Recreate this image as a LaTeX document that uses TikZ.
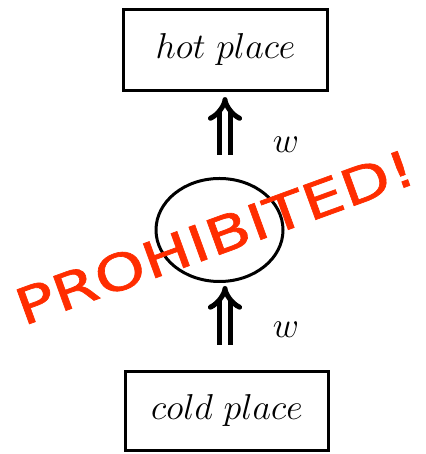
\RequirePackage{fix-cm}
\documentclass[tikz,border=0pt]{standalone}
\usepackage{fontspec}
\usetikzlibrary{arrows.meta}
\usetikzlibrary{shapes.geometric}
\newfontfamily\stampfont[FakeStretch=1.29, FakeBold=1.3]{DejaVu Sans}
\definecolor{stampred}{RGB}{255,45,0}
\tikzset{>=latex}
\tikzset{
    place/.style={draw, line width=3.2pt, inner sep=0pt, font=\fontsize{36}{42}\selectfont},
    work/.style={line width=5pt, double distance=6pt, -{Implies[length=14pt, width=32pt, line width=5pt]}},
}

\begin{document}
\begin{tikzpicture}[x=1pt, y=1pt]
    \useasboundingbox (0, 0) rectangle (425, 454);
    \node[place, minimum width=204, minimum height=81](hot) at (225.5, 404) {$hot\ place$};
    \node[place, minimum width=203, minimum height=79](cold) at (227, 43) {$cold\ place$};
    \node[ellipse, draw, line width=3pt, minimum width=127, minimum height=103, inner sep=0pt](engine) at (219.5, 224) {};
    % work flows up through the engine
    \coordinate(out) at (225, 299);
    \coordinate(in) at (225, 109);
    \draw[work](out) -- ([yshift=-5]out |- hot.south);
    \draw[work](in) -- ([yshift=-3]in |- engine.south);
    \node(wtop) at (286, 309) {\fontsize{36}{42}\selectfont$w$};
    \node(wbot) at (286, 124) {\fontsize{36}{42}\selectfont$w$};
    \node[text=stampred, rotate=20, inner sep=0pt](stamp) at (215, 217) {\fontsize{50}{60}\stampfont PROHIBITED!};
\end{tikzpicture}
\end{document}
